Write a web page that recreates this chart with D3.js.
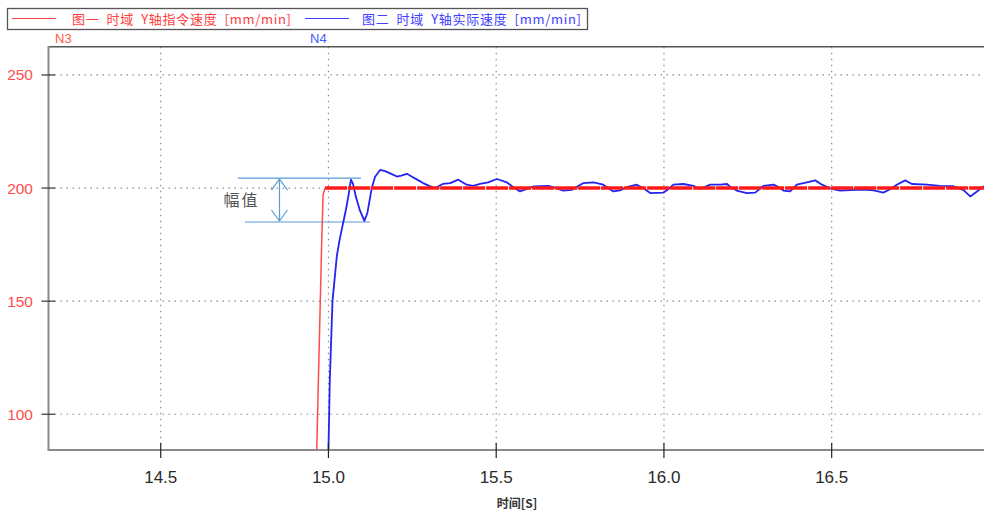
<!DOCTYPE html>
<meta charset="utf-8">
<head>
<script src="https://d3js.org/d3.v7.min.js"></script>
<style>
  body { margin: 0; background: #fff; }
  svg { display: block; font-family: "Liberation Sans", Arial, sans-serif; }
</style>
</head>
<body>
<div id="chart"></div>
<script>
// x ticks (time, s) and y ticks (speed, mm/min)
const xTicks = [14.5, 15.0, 15.5, 16.0, 16.5];
const yTicks = [100, 150, 200, 250];

// commanded speed (red)
const cmdTime  = [14.965, 14.970, 14.980, 14.984, 14.990, 16.975];
const cmdSpeed = [84, 115, 177, 197, 200, 200];

// actual speed (blue)
const actTime = [15.000, 15.004, 15.012, 15.025, 15.033, 15.052, 15.060, 15.067, 15.073, 15.082, 15.094, 15.107,
  15.116, 15.129, 15.139, 15.154, 15.169, 15.184, 15.204, 15.217, 15.234, 15.249, 15.267, 15.282, 15.300, 15.318,
  15.342, 15.363, 15.387, 15.412, 15.431, 15.452, 15.476, 15.502, 15.532, 15.550, 15.571, 15.589, 15.611, 15.656,
  15.679, 15.700, 15.725, 15.760, 15.790, 15.819, 15.849, 15.869, 15.889, 15.919, 15.938, 15.959, 15.999, 16.013,
  16.028, 16.058, 16.088, 16.108, 16.138, 16.168, 16.188, 16.200, 16.217, 16.247, 16.272, 16.297, 16.327, 16.341,
  16.356, 16.376, 16.396, 16.426, 16.451, 16.471, 16.501, 16.525, 16.555, 16.595, 16.625, 16.654, 16.674, 16.694,
  16.719, 16.739, 16.784, 16.823, 16.863, 16.893, 16.913, 16.933, 16.953, 16.975];
const actSpeed = [84, 115, 150, 170, 177, 190.4, 197, 203.7, 202, 196, 190, 185.5,
  189, 200, 205, 208, 207.5, 206.5, 205.1, 205.5, 206.3, 205, 203.5, 202.2, 201, 200,
  201.9, 202.2, 203.7, 201.5, 201, 201.9, 202.5, 204, 202.5, 200.5, 198.5, 199.5, 200.7, 201,
  200, 198.9, 199.2, 202.2, 202.5, 201.5, 198.5, 199, 200.4, 201.5, 200, 197.8, 198, 199.5,
  201.5, 201.8, 201, 199.6, 201.5, 201.5, 201.8, 200.3, 198.9, 197.8, 198, 201, 201.5, 200.5,
  198.9, 198.5, 201.5, 202.5, 203.4, 201.5, 199.6, 198.9, 199.1, 199.3, 199, 198, 199.5, 201.5,
  203.4, 201.8, 201.5, 201, 200.8, 199.1, 196.3, 198.5, 200.7, 201];

// amplitude annotation (幅值)
const ampHigh = 204.4, ampLow = 185.0;

const W = 984, H = 513;
const svg = d3.select("#chart").append("svg").attr("width", W).attr("height", H);

const x = d3.scaleLinear().domain([14.1655, 16.954]).range([48.5, 984]);
const y = d3.scaleLinear().domain([84.2, 262.5]).range([450, 46.7]);

// grid
svg.append("g").selectAll("line").data(xTicks).join("line")
  .attr("x1", d => x(d)).attr("x2", d => x(d))
  .attr("y1", y.range()[1]).attr("y2", y.range()[0])
  .attr("stroke", "#8c8c8c").attr("stroke-width", 1.2).attr("stroke-dasharray", "1.5,4.5");
svg.append("g").selectAll("line").data(yTicks).join("line")
  .attr("x1", x.range()[0]).attr("x2", W)
  .attr("y1", d => y(d)).attr("y2", d => y(d))
  .attr("stroke", "#8c8c8c").attr("stroke-width", 1.2).attr("stroke-dasharray", "1.5,4.5");

// frame
svg.append("line").attr("x1", 48).attr("x2", W).attr("y1", 46.7).attr("y2", 46.7)
  .attr("stroke", "#555").attr("stroke-width", 1.5);

// annotation
const annoColor = "#5b9bd5";
svg.append("line").attr("x1", x(14.730)).attr("x2", x(15.097)).attr("y1", y(ampHigh)).attr("y2", y(ampHigh))
  .attr("stroke", annoColor).attr("stroke-width", 1.2);
svg.append("line").attr("x1", x(14.751)).attr("x2", x(15.124)).attr("y1", y(ampLow)).attr("y2", y(ampLow))
  .attr("stroke", annoColor).attr("stroke-width", 1.2);
const ax = x(14.854);
svg.append("line").attr("x1", ax).attr("x2", ax).attr("y1", y(ampHigh) + 1).attr("y2", y(ampLow) - 1)
  .attr("stroke", annoColor).attr("stroke-width", 1.2);
svg.append("path")
  .attr("d", `M${ax - 8},${y(ampHigh) + 12}L${ax},${y(ampHigh) + 1}L${ax + 8},${y(ampHigh) + 12}` +
             `M${ax - 8},${y(ampLow) - 12}L${ax},${y(ampLow) - 1}L${ax + 8},${y(ampLow) - 12}`)
  .attr("fill", "none").attr("stroke", annoColor).attr("stroke-width", 1.2);
svg.append("text").attr("x", x(14.741)).attr("y", (y(ampHigh) + y(ampLow)) / 2 + 6)
  .attr("text-anchor", "middle").attr("fill", "#555").attr("font-size", 16)
  .attr("font-family", "'Noto Sans CJK SC', sans-serif").attr("letter-spacing", 2).text("幅值");

// series
const line = d3.line().x(d => x(d[0])).y(d => y(d[1]));
const cmd = cmdTime.map((t, i) => [t, cmdSpeed[i]]);
const act = actTime.map((t, i) => [t, actSpeed[i]]);

svg.append("path").datum(cmd.filter(d => d[1] < 199.5).concat([cmd[4]]))
  .attr("d", line).attr("fill", "none").attr("stroke", "#ff4a4a").attr("stroke-width", 1.5);

svg.append("path").datum(act).attr("d", d3.line().x(d => x(d[0])).y(d => y(d[1])))
  .attr("fill", "none").attr("stroke", "#2424f0").attr("stroke-width", 1.8)
  .attr("stroke-linejoin", "round");

svg.append("path").datum(cmd.filter(d => d[1] >= 199.5))
  .attr("d", line)
  .attr("fill", "none").attr("stroke", "#ff1a1a").attr("stroke-width", 3.5)
  .attr("stroke-dasharray", "22,1");

// axes
svg.append("line").attr("x1", 48.5).attr("x2", 48.5).attr("y1", 46).attr("y2", 450)
  .attr("stroke", "#8a8a8a").attr("stroke-width", 2);
svg.append("line").attr("x1", 47.5).attr("x2", W).attr("y1", 450).attr("y2", 450)
  .attr("stroke", "#8a8a8a").attr("stroke-width", 2);

svg.append("g").selectAll("line").data(yTicks).join("line")
  .attr("x1", 41.5).attr("x2", 55).attr("y1", d => y(d)).attr("y2", d => y(d))
  .attr("stroke", "#444").attr("stroke-width", 1.3);
svg.append("g").selectAll("text").data(yTicks).join("text")
  .attr("x", 33).attr("y", d => y(d) + 5.5).attr("text-anchor", "end")
  .attr("fill", "#ff4d4d").attr("font-size", 15.5).text(d => d);

svg.append("g").selectAll("line").data(xTicks).join("line")
  .attr("x1", d => x(d)).attr("x2", d => x(d)).attr("y1", 443).attr("y2", 458)
  .attr("stroke", "#222").attr("stroke-width", 1.2);
svg.append("g").selectAll("text").data(xTicks).join("text")
  .attr("x", d => x(d)).attr("y", 483).attr("text-anchor", "middle")
  .attr("fill", "#2a2a2a").attr("font-size", 17).text(d => d.toFixed(1));

svg.append("text").attr("x", 517).attr("y", 508).attr("text-anchor", "middle")
  .attr("fill", "#333").attr("font-size", 12).attr("font-weight", "bold")
  .attr("font-family", "'Noto Sans CJK SC', sans-serif").text("时间[S]");

// markers
svg.append("text").attr("x", 55).attr("y", 43).attr("fill", "#ff5a3c").attr("font-size", 13).text("N3");
svg.append("text").attr("x", 310).attr("y", 43).attr("fill", "#3f5bff").attr("font-size", 13).text("N4");

// legend
const legend = svg.append("g");
legend.append("rect").attr("x", 7.5).attr("y", 8.5).attr("width", 580).attr("height", 21)
  .attr("fill", "#fff").attr("stroke", "#555").attr("stroke-width", 1.3);
const legendItems = [
  { label: "图一  时域  Y轴指令速度  [mm/min]", color: "#ff4040", x0: 12, tx: 72 },
  { label: "图二  时域  Y轴实际速度  [mm/min]", color: "#4040ff", x0: 305, tx: 362 }
];
legend.selectAll("line").data(legendItems).join("line")
  .attr("x1", d => d.x0).attr("x2", d => d.x0 + 44).attr("y1", 18.5).attr("y2", 18.5)
  .attr("stroke", d => d.color).attr("stroke-width", 1.2);
legend.selectAll("text").data(legendItems).join("text")
  .attr("x", d => d.tx).attr("y", 23.5).attr("fill", d => d.color).attr("font-size", 13)
  .attr("font-family", "'Noto Sans CJK SC', sans-serif").attr("xml:space", "preserve")
  .attr("letter-spacing", 0.7).style("white-space", "pre")
  .text(d => d.label);
</script>
</body>
